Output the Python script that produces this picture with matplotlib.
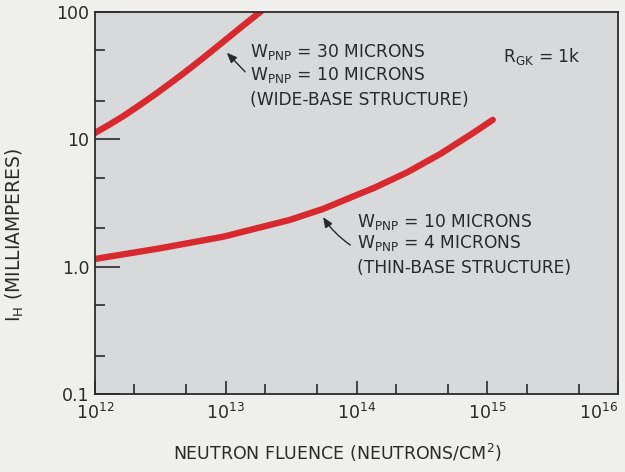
import numpy as np
import matplotlib
matplotlib.use("Agg")
import matplotlib.pyplot as plt
from matplotlib.ticker import FixedLocator, NullFormatter

# Data (log-log)
wide_fluence = [1.0e12, 1.30e12, 1.65e12, 2.21e12, 2.97e12, 3.98e12, 5.35e12,
                7.18e12, 9.62e12, 1.33e13, 1.84e13, 1.95e13]
wide_ih = [11.2, 13.1, 15.2, 18.6, 23.0, 28.7, 36.1, 45.9, 58.5, 76.7, 100.0, 105.0]

thin_fluence = [1.0e12, 2.97e12, 9.6e12, 3.1e13, 5.6e13, 1.0e14, 1.36e14,
                2.44e14, 4.4e14, 7.9e14, 1.1e15]
thin_ih = [1.15, 1.38, 1.72, 2.33, 2.85, 3.65, 4.15, 5.5, 7.7, 11.3, 14.2]

x_ticks = [1e12, 1e13, 1e14, 1e15, 1e16]
x_ticklabels = [r'$10^{12}$', r'$10^{13}$', r'$10^{14}$', r'$10^{15}$', r'$10^{16}$']
y_ticks = [0.1, 1.0, 10, 100]
y_ticklabels = ['0.1', '1.0', '10', '100']

red = '#d82a2e'
ink = '#2a2a2a'

fig = plt.figure(figsize=(6.25, 4.72), dpi=100)
fig.patch.set_facecolor('#efefed')
ax = fig.add_axes([0.152, 0.165, 0.837, 0.810])
ax.set_facecolor('#d8d9db')

ax.plot(wide_fluence, wide_ih, color=red, lw=4.6, solid_capstyle='round',
        solid_joinstyle='round')
ax.plot(thin_fluence, thin_ih, color=red, lw=4.6, solid_capstyle='round',
        solid_joinstyle='round')

ax.set_xscale('log')
ax.set_yscale('log')
ax.set_xlim(1e12, 1e16)
ax.set_ylim(0.1, 100)

ax.xaxis.set_major_locator(FixedLocator(x_ticks))
ax.set_xticklabels(x_ticklabels)
ax.yaxis.set_major_locator(FixedLocator(y_ticks))
ax.set_yticklabels(y_ticklabels)
ax.get_xticklabels()[-1].set_horizontalalignment('right')

xminor = [m * 10.0**e for e in range(12, 16) for m in (2, 5)]
yminor = [m * 10.0**e for e in range(-1, 2) for m in (2, 5)]
ax.xaxis.set_minor_locator(FixedLocator(xminor))
ax.yaxis.set_minor_locator(FixedLocator(yminor))
ax.xaxis.set_minor_formatter(NullFormatter())
ax.yaxis.set_minor_formatter(NullFormatter())

ax.tick_params(axis='both', which='both', direction='in', color=ink, width=1.2,
               top=False, right=False, labelsize=12.5, labelcolor=ink)
ax.tick_params(axis='y', which='major', length=18, pad=4)
ax.tick_params(axis='x', which='major', length=9.5, pad=6)
ax.tick_params(axis='both', which='minor', length=7)

for s in ax.spines.values():
    s.set_color(ink)
    s.set_linewidth(1.3)

ax.set_xlabel(r'NEUTRON FLUENCE (NEUTRONS/CM$^2$)', fontsize=12.5, color=ink)
ax.xaxis.set_label_coords(0.463, -0.154)
ax.set_ylabel(r'I$_\mathrm{H}$ (MILLIAMPERES)', fontsize=13.5, color=ink)
ax.yaxis.set_label_coords(-0.153, 0.416)
ax.yaxis.label.set_verticalalignment('center')
ax.xaxis.label.set_verticalalignment('center')

tkw = dict(transform=ax.transAxes, fontsize=12.3, color=ink, va='center', ha='left')
ax.text(0.296, 0.895, r'W$_\mathrm{PNP}$ = 30 MICRONS', **tkw)
ax.text(0.296, 0.835, r'W$_\mathrm{PNP}$ = 10 MICRONS', **tkw)
ax.text(0.296, 0.770, '(WIDE-BASE STRUCTURE)', **tkw)

ax.text(0.501, 0.450, r'W$_\mathrm{PNP}$ = 10 MICRONS', **tkw)
ax.text(0.501, 0.395, r'W$_\mathrm{PNP}$ = 4 MICRONS', **tkw)
ax.text(0.501, 0.330, '(THIN-BASE STRUCTURE)', **tkw)

ax.text(0.78, 0.882, r'R$_\mathrm{GK}$ = 1k', **tkw)

akw = dict(arrowstyle='-|>,head_length=0.6,head_width=0.25', color=ink, lw=1.0,
           shrinkA=0, shrinkB=0)
ax.annotate('', xy=(0.252, 0.893), xytext=(0.287, 0.843), xycoords='axes fraction',
            textcoords='axes fraction', arrowprops=akw)
ax.annotate('', xy=(0.436, 0.463), xytext=(0.488, 0.390), xycoords='axes fraction',
            textcoords='axes fraction',
            arrowprops=dict(akw, connectionstyle='arc3,rad=-0.1'))

fig.savefig('out.png', dpi=100, facecolor=fig.get_facecolor())
